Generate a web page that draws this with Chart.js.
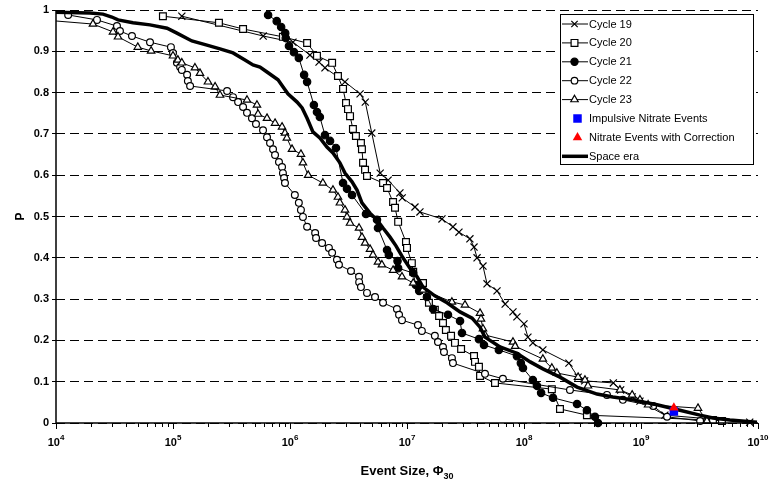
<!DOCTYPE html>
<html>
<head>
<meta charset="utf-8">
<script src="https://cdn.jsdelivr.net/npm/chart.js@4.4.1/dist/chart.umd.min.js"></script>
<style>
  html, body { margin: 0; padding: 0; background: #fff; }
  #wrap { width: 770px; height: 487px; }
</style>
</head>
<body>
<div id="wrap"><canvas id="chart" width="770" height="487"></canvas></div>
<script>
const FONT = '"Liberation Sans", Arial, sans-serif';

// event size (Phi_30) and cumulative probability P
const cycle19Size = [1.19e5, 5.9e5, 1.06e6, 1.48e6, 1.77e6, 1.99e6, 2.95e6, 3.97e6, 4.4e6, 5.0e6, 5.9e6, 6.9e6, 8.7e6, 9.1e6, 1.17e7, 1.29e7, 1.99e7, 2.47e7, 2.78e7, 3.45e7, 3.74e7, 3.97e7, 4.46e7, 4.83e7, 5.88e7, 6.9e7, 8.05e7, 8.7e7, 1.0e8, 1.08e8, 1.19e8, 1.45e8, 2.42e8, 2.9e8, 3.3e8, 5.8e8, 6.7e8, 8.4e8, 9.8e8, 1.6e9, 8.5e9];
const cycle19P = [0.985, 0.937, 0.922, 0.891, 0.874, 0.860, 0.826, 0.797, 0.777, 0.702, 0.605, 0.588, 0.557, 0.545, 0.523, 0.511, 0.494, 0.475, 0.462, 0.446, 0.426, 0.400, 0.380, 0.337, 0.320, 0.288, 0.269, 0.257, 0.240, 0.208, 0.194, 0.177, 0.145, 0.111, 0.102, 0.097, 0.080, 0.063, 0.053, 0.019, 0.002];

const cycle20Size = [8.2e4, 2.47e5, 3.97e5, 8.7e5, 1.4e6, 1.7e6, 2.29e6, 2.57e6, 2.84e6, 3.01e6, 3.13e6, 3.26e6, 3.45e6, 3.66e6, 4.04e6, 4.12e6, 4.21e6, 4.38e6, 4.55e6, 6.24e6, 6.75e6, 7.6e6, 7.9e6, 8.4e6, 9.8e6, 1.0e7, 1.1e7, 1.13e7, 1.37e7, 1.54e7, 1.73e7, 1.88e7, 2.03e7, 2.15e7, 2.38e7, 2.57e7, 2.9e7, 3.74e7, 3.81e7, 4.12e7, 4.21e7, 5.65e7, 1.73e8, 2.03e8, 3.45e8, 4.12e9, 4.92e9];
const cycle20P = [0.985, 0.969, 0.954, 0.935, 0.920, 0.889, 0.872, 0.840, 0.809, 0.775, 0.760, 0.743, 0.712, 0.695, 0.678, 0.663, 0.630, 0.613, 0.598, 0.581, 0.569, 0.535, 0.521, 0.487, 0.438, 0.424, 0.387, 0.366, 0.339, 0.291, 0.274, 0.259, 0.242, 0.225, 0.211, 0.194, 0.179, 0.162, 0.148, 0.136, 0.114, 0.097, 0.082, 0.034, 0.019, 0.007, 0.005];

const cycle21Size = [6.5e5, 7.7e5, 8.4e5, 9.1e5, 9.2e5, 9.8e5, 1.08e6, 1.19e6, 1.32e6, 1.4e6, 1.6e6, 1.7e6, 1.8e6, 1.99e6, 2.2e6, 2.47e6, 2.84e6, 3.07e6, 3.39e6, 4.46e6, 5.54e6, 5.65e6, 6.75e6, 7.0e6, 8.3e6, 8.4e6, 1.13e7, 1.19e7, 1.27e7, 1.48e7, 1.67e7, 2.24e7, 2.84e7, 2.95e7, 4.12e7, 4.55e7, 6.1e7, 8.7e7, 9.4e7, 9.8e7, 1.19e8, 1.29e8, 1.4e8, 1.77e8, 2.84e8, 3.45e8, 4.04e8, 4.29e8];
const cycle21P = [0.988, 0.973, 0.959, 0.944, 0.932, 0.913, 0.898, 0.884, 0.843, 0.826, 0.770, 0.753, 0.741, 0.697, 0.683, 0.666, 0.581, 0.567, 0.552, 0.506, 0.492, 0.472, 0.419, 0.407, 0.392, 0.375, 0.363, 0.334, 0.320, 0.305, 0.276, 0.262, 0.247, 0.218, 0.203, 0.189, 0.177, 0.162, 0.145, 0.133, 0.104, 0.090, 0.073, 0.061, 0.046, 0.031, 0.015, 0.0];

const cycle22Size = [1.27e4, 2.24e4, 3.32e4, 3.52e4, 4.46e4, 6.36e4, 9.6e4, 1.0e5, 1.08e5, 1.15e5, 1.19e5, 1.32e5, 1.34e5, 1.4e5, 2.9e5, 3.26e5, 3.6e5, 3.97e5, 4.29e5, 4.73e5, 5.12e5, 5.88e5, 6.36e5, 6.75e5, 7.16e5, 7.45e5, 8.05e5, 8.55e5, 8.7e5, 8.9e5, 9.06e5, 1.1e6, 1.19e6, 1.24e6, 1.29e6, 1.4e6, 1.64e6, 1.67e6, 1.88e6, 2.15e6, 2.29e6, 2.52e6, 2.62e6, 3.32e6, 3.89e6, 3.9e6, 4.04e6, 4.55e6, 5.33e6, 6.24e6, 8.2e6, 8.55e6, 9.06e6, 1.24e7, 1.34e7, 1.73e7, 1.84e7, 2.03e7, 2.07e7, 2.42e7, 2.47e7, 4.64e7, 6.6e7, 2.47e8, 5.12e8, 7.0e8, 1.27e9, 1.67e9, 3.2e9];
const cycle22P = [0.988, 0.976, 0.961, 0.949, 0.937, 0.922, 0.910, 0.896, 0.872, 0.862, 0.855, 0.843, 0.828, 0.816, 0.804, 0.789, 0.777, 0.765, 0.751, 0.738, 0.724, 0.709, 0.692, 0.678, 0.663, 0.649, 0.632, 0.620, 0.605, 0.593, 0.581, 0.552, 0.533, 0.516, 0.499, 0.475, 0.460, 0.448, 0.436, 0.424, 0.412, 0.395, 0.383, 0.368, 0.354, 0.341, 0.329, 0.315, 0.305, 0.291, 0.276, 0.262, 0.249, 0.237, 0.223, 0.211, 0.196, 0.184, 0.172, 0.157, 0.145, 0.119, 0.107, 0.080, 0.068, 0.056, 0.041, 0.015, 0.005];

const cycle23Size = [7.0e3, 2.07e4, 3.07e4, 3.39e4, 5.0e4, 6.5e4, 1.0e5, 1.1e5, 1.19e5, 1.54e5, 1.7e5, 1.99e5, 2.29e5, 2.52e5, 4.29e5, 5.22e5, 5.33e5, 6.36e5, 7.45e5, 8.55e5, 9.06e5, 9.4e5, 1.04e6, 1.24e6, 1.29e6, 1.43e6, 1.91e6, 2.33e6, 2.57e6, 2.67e6, 2.95e6, 3.07e6, 3.26e6, 3.89e6, 4.12e6, 4.38e6, 4.83e6, 5.12e6, 5.65e6, 6.1e6, 7.6e6, 9.06e6, 1.13e7, 1.37e7, 2.42e7, 3.13e7, 4.21e7, 4.29e7, 4.46e7, 4.64e7, 8.05e7, 8.4e7, 1.45e8, 1.73e8, 1.91e8, 2.9e8, 3.32e8, 3.52e8, 6.6e8, 8.4e8, 9.8e8, 1.15e9, 3.07e9, 3.66e9];
const cycle23P = [0.977, 0.966, 0.947, 0.935, 0.910, 0.901, 0.889, 0.879, 0.872, 0.860, 0.847, 0.826, 0.814, 0.794, 0.782, 0.770, 0.748, 0.738, 0.726, 0.717, 0.702, 0.690, 0.663, 0.651, 0.630, 0.600, 0.581, 0.564, 0.547, 0.533, 0.516, 0.499, 0.484, 0.472, 0.450, 0.436, 0.421, 0.407, 0.390, 0.383, 0.370, 0.354, 0.339, 0.322, 0.293, 0.286, 0.266, 0.252, 0.228, 0.213, 0.196, 0.186, 0.155, 0.133, 0.121, 0.111, 0.104, 0.090, 0.080, 0.068, 0.056, 0.044, 0.036, 0.005];

const spaceEraSize = [8e3, 1.95e4, 2.52e4, 3.0e4, 3.39e4, 4.55e4, 6.36e4, 8.9e4, 1.08e5, 1.45e5, 1.95e5, 2.52e5, 3.26e5, 4.12e5, 4.83e5, 5.54e5, 6.36e5, 7.9e5, 8.7e5, 9.6e5, 1.15e6, 1.27e6, 1.4e6, 1.57e6, 1.8e6, 2.07e6, 2.33e6, 2.67e6, 2.95e6, 3.39e6, 3.74e6, 4.12e6, 4.83e6, 5.54e6, 6.24e6, 7.16e6, 8.05e6, 9.24e6, 1.06e7, 1.22e7, 1.37e7, 1.73e7, 2.2e7, 2.84e7, 3.6e7, 4.21e7, 4.64e7, 6.24e7, 8.7e7, 1.13e8, 1.45e8, 2.03e8, 2.84e8, 4.21e8, 5.75e8, 8.55e8, 1.37e9, 2.15e9, 3.19e9, 4.12e9, 5.75e9, 9.8e9];
const spaceEraP = [0.995, 0.993, 0.990, 0.983, 0.976, 0.969, 0.964, 0.956, 0.944, 0.925, 0.915, 0.906, 0.896, 0.879, 0.867, 0.862, 0.850, 0.831, 0.814, 0.797, 0.777, 0.763, 0.738, 0.705, 0.690, 0.668, 0.654, 0.630, 0.605, 0.584, 0.564, 0.533, 0.508, 0.492, 0.472, 0.450, 0.429, 0.400, 0.375, 0.354, 0.329, 0.308, 0.291, 0.269, 0.254, 0.232, 0.208, 0.184, 0.169, 0.148, 0.131, 0.111, 0.087, 0.070, 0.063, 0.056, 0.044, 0.031, 0.019, 0.012, 0.007, 0.002];

const impulsiveSize = [1.91e9];
const impulsiveP = [0.028];
const correctedSize = [1.91e9];
const correctedP = [0.037];

const xTickExponents = [4, 5, 6, 7, 8, 9, 10];
const yTicks = [0, 0.1, 0.2, 0.3, 0.4, 0.5, 0.6, 0.7, 0.8, 0.9, 1];

function pts(xs, ys) { return xs.map((x, i) => ({ x, y: ys[i] })); }

const CLIP = { left: 0, top: 10, right: 10, bottom: 10 };
function cycle(label, xs, ys, style, radius, fill, order) {
  return {
    label, data: pts(xs, ys), order, clip: CLIP,
    borderColor: "#000", borderWidth: 1, tension: 0,
    pointStyle: style, pointRadius: radius, pointBorderWidth: 1.2,
    pointBorderColor: "#000", pointBackgroundColor: fill,
  };
}

const datasets = [
  cycle("Cycle 19", cycle19Size, cycle19P, "crossRot", 5, "#000", 6),
  cycle("Cycle 20", cycle20Size, cycle20P, "rect", 4.8, "#fff", 5),
  cycle("Cycle 21", cycle21Size, cycle21P, "circle", 3.7, "#000", 4),
  cycle("Cycle 22", cycle22Size, cycle22P, "circle", 3.4, "#fff", 3),
  cycle("Cycle 23", cycle23Size, cycle23P, "triangle", 4.3, "#fff", 2),
  { label: "Impulsive Nitrate Events", data: pts(impulsiveSize, impulsiveP), order: -1, clip: CLIP,
    showLine: false, pointStyle: "rect", pointRadius: 6, pointBorderWidth: 0,
    pointBackgroundColor: "#0000ff", pointBorderColor: "#0000ff" },
  { label: "Nitrate Events with Correction", data: pts(correctedSize, correctedP), order: -2, clip: CLIP,
    showLine: false, pointStyle: "triangle", pointRadius: 5.5, pointBorderWidth: 0,
    pointBackgroundColor: "#ff0000", pointBorderColor: "#ff0000" },
  { label: "Space era", data: pts(spaceEraSize, spaceEraP), order: 0, clip: CLIP,
    borderColor: "#000", borderWidth: 3.5, pointRadius: 0, tension: 0 },
];

function marker(ctx, style, x, y, r, fill, stroke) {
  ctx.save();
  ctx.fillStyle = fill; ctx.strokeStyle = stroke; ctx.lineWidth = 1.2;
  ctx.beginPath();
  if (style === "circle") {
    ctx.arc(x, y, r, 0, Math.PI * 2);
    ctx.fill(); ctx.stroke();
  } else if (style === "rect") {
    const h = r * Math.SQRT1_2;
    ctx.rect(x - h, y - h, 2 * h, 2 * h);
    ctx.fill(); if (stroke) ctx.stroke();
  } else if (style === "triangle") {
    ctx.moveTo(x, y - r);
    ctx.lineTo(x + r * 0.866, y + r * 0.5);
    ctx.lineTo(x - r * 0.866, y + r * 0.5);
    ctx.closePath();
    ctx.fill(); if (stroke) ctx.stroke();
  } else if (style === "crossRot") {
    const o = r * Math.SQRT1_2;
    ctx.moveTo(x - o, y - o); ctx.lineTo(x + o, y + o);
    ctx.moveTo(x - o, y + o); ctx.lineTo(x + o, y - o);
    ctx.stroke();
  }
  ctx.restore();
}

const decor = {
  id: "decor",
  afterDraw(chart) {
    const { ctx, chartArea: a, scales } = chart;
    const xs = scales.x;
    ctx.save();
    // axis lines
    ctx.strokeStyle = "#000"; ctx.lineWidth = 1.5; ctx.setLineDash([]);
    ctx.beginPath();
    ctx.moveTo(a.left, a.top); ctx.lineTo(a.left, a.bottom); ctx.lineTo(a.right, a.bottom);
    ctx.stroke();
    // log ticks below the x axis
    ctx.lineWidth = 1;
    ctx.beginPath();
    xTickExponents.forEach((e) => {
      for (let m = 1; m <= 9; m++) {
        if (e === 10 && m > 1) break;
        const px = Math.round(xs.getPixelForValue(m * Math.pow(10, e))) + 0.5;
        ctx.moveTo(px, a.bottom);
        ctx.lineTo(px, a.bottom + (m === 1 ? 6 : 4));
      }
    });
    ctx.stroke();
    // x tick labels 10^n
    ctx.fillStyle = "#000"; ctx.textBaseline = "alphabetic"; ctx.textAlign = "left";
    xTickExponents.forEach((e) => {
      const px = xs.getPixelForValue(Math.pow(10, e));
      ctx.font = "bold 11px " + FONT;
      const bw = ctx.measureText("10").width;
      ctx.font = "bold 8px " + FONT;
      const ew = ctx.measureText(String(e)).width;
      const left = px - (bw + ew) / 2;
      ctx.font = "bold 11px " + FONT;
      ctx.fillText("10", left, 446);
      ctx.font = "bold 8px " + FONT;
      ctx.fillText(String(e), left + bw, 440);
    });
    // x title with subscript
    ctx.font = "bold 13px " + FONT;
    const t = "Event Size, \u03A6";
    const tw = ctx.measureText(t).width;
    ctx.font = "bold 9px " + FONT;
    const sw = ctx.measureText("30").width;
    const tx = (a.left + a.right) / 2 - (tw + sw) / 2;
    ctx.font = "bold 13px " + FONT;
    ctx.fillText(t, tx, 475);
    ctx.font = "bold 9px " + FONT;
    ctx.fillText("30", tx + tw, 479);
    // y title
    ctx.save();
    ctx.translate(21, (a.top + a.bottom) / 2);
    ctx.rotate(-Math.PI / 2);
    ctx.textAlign = "center"; ctx.textBaseline = "middle";
    ctx.font = "bold 12px " + FONT;
    ctx.fillText("P", 0, 0);
    ctx.restore();
    // legend
    const L = 560.5, T = 14.5, W = 193, H = 150;
    ctx.fillStyle = "#fff"; ctx.fillRect(L, T, W, H);
    ctx.strokeStyle = "#000"; ctx.lineWidth = 1; ctx.strokeRect(L, T, W, H);
    const rows = [
      ["Cycle 19", "crossRot", 4.5, "#000", "#000", 1],
      ["Cycle 20", "rect", 4.8, "#fff", "#000", 1],
      ["Cycle 21", "circle", 3.6, "#000", "#000", 1],
      ["Cycle 22", "circle", 3.3, "#fff", "#000", 1],
      ["Cycle 23", "triangle", 4.3, "#fff", "#000", 1],
      ["Impulsive Nitrate Events", "rect", 6, "#0000ff", null, 0],
      ["Nitrate Events with Correction", "triangle", 5.5, "#ff0000", null, 0],
      ["Space era", null, 0, null, null, 3.5],
    ];
    rows.forEach((r, i) => {
      const y = 24 + i * 18.9;
      if (r[5]) {
        ctx.strokeStyle = "#000"; ctx.lineWidth = r[5];
        ctx.beginPath(); ctx.moveTo(562, y); ctx.lineTo(588, y); ctx.stroke();
      }
      if (r[1]) marker(ctx, r[1], r[5] ? 574.5 : 577.5, y, r[2], r[3], r[4]);
      ctx.fillStyle = "#000"; ctx.font = "11px " + FONT;
      ctx.textAlign = "left"; ctx.textBaseline = "middle";
      ctx.fillText(r[0], 589, y + 0.5);
    });
    ctx.restore();
  },
};

new Chart(document.getElementById("chart"), {
  type: "line",
  data: { datasets },
  options: {
    responsive: false, animation: false, devicePixelRatio: 1,
    layout: { padding: { top: 10, right: 12, left: 0, bottom: 0 } },
    plugins: { legend: { display: false }, tooltip: { enabled: false } },
    scales: {
      x: {
        type: "logarithmic", min: 1e4, max: 1e10,
        ticks: { display: false },
        grid: { display: false },
        border: { display: false },
        afterFit(s) { s.height = 64; },
      },
      y: {
        type: "linear", min: 0, max: 1,
        afterBuildTicks(s) { s.ticks = yTicks.map((v) => ({ value: v })); },
        ticks: {
          color: "#000", padding: 3,
          font: { family: FONT, size: 11, weight: "bold" },
          callback: (v) => String(+v.toFixed(1)),
        },
        grid: { color: "#000", lineWidth: 1, tickLength: 4 },
        border: { display: false, dash: [9, 5] },
        afterFit(s) { s.width = 56; },
      },
    },
  },
  plugins: [decor],
});
</script>
</body>
</html>
